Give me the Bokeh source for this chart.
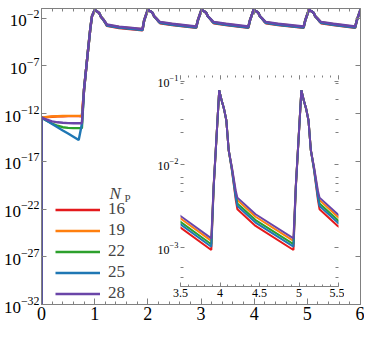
from bokeh.plotting import figure
from bokeh.models import (FixedTicker, LogAxis, LinearAxis, Legend, LegendItem,
                          Label, Range1d, CustomJSTickFormatter)
from bokeh.embed import file_html
from bokeh.resources import INLINE

# ---------------- data (time, log10 of quantity) ----------------
t = [0.0, 0.0, 0.1, 0.2, 0.3, 0.4, 0.5, 0.6, 0.7, 0.76, 0.80, 0.86, 0.92, 0.95, 1.00,
     1.03, 1.06, 1.09, 1.12, 1.16, 1.21, 1.23, 1.46,
     1.90, 1.93, 2.00, 2.03, 2.06, 2.09, 2.12, 2.16, 2.21, 2.23, 2.46,
     2.91, 2.94, 3.01, 3.04, 3.07, 3.10, 3.13, 3.17, 3.22, 3.24, 3.47,
     3.89, 3.92, 3.99, 4.02, 4.05, 4.08, 4.11, 4.15, 4.20, 4.22, 4.45,
     4.93, 4.96, 5.03, 5.06, 5.09, 5.12, 5.15, 5.19, 5.24, 5.26, 5.49,
     5.90, 5.93, 6.00]

log_np16 = [-40, -12.43, -12.38, -12.33, -12.30, -12.28, -12.27, -12.27, -12.27, -12.28, -9.5, -6.2, -3.0, -1.8, -1.15,
            -1.25, -1.36, -1.52, -1.88, -2.16, -2.61, -2.82, -3.04,
            -3.29, -2.28, -1.11, -1.23, -1.33, -1.47, -1.83, -2.07, -2.43, -2.54, -2.74,
            -3.03, -2.28, -1.11, -1.23, -1.33, -1.47, -1.83, -2.07, -2.43, -2.54, -2.74,
            -3.03, -2.28, -1.11, -1.23, -1.33, -1.47, -1.83, -2.07, -2.43, -2.54, -2.74,
            -3.03, -2.28, -1.11, -1.23, -1.33, -1.47, -1.83, -2.07, -2.43, -2.54, -2.74,
            -3.03, -2.28, -1.11]

log_np19 = [-40, -12.43, -12.36, -12.31, -12.28, -12.26, -12.25, -12.25, -12.25, -12.26, -9.5, -6.2, -3.0, -1.8, -1.15,
            -1.25, -1.36, -1.52, -1.88, -2.13, -2.53, -2.71, -2.93,
            -3.18, -2.25, -1.11, -1.23, -1.33, -1.47, -1.83, -2.04, -2.35, -2.43, -2.63,
            -2.92, -2.25, -1.11, -1.23, -1.33, -1.47, -1.83, -2.04, -2.35, -2.43, -2.63,
            -2.92, -2.25, -1.11, -1.23, -1.33, -1.47, -1.83, -2.04, -2.35, -2.43, -2.63,
            -2.92, -2.25, -1.11, -1.23, -1.33, -1.47, -1.83, -2.04, -2.35, -2.43, -2.63,
            -2.92, -2.25, -1.11]

log_np22 = [-40, -12.43, -12.75, -13.05, -13.28, -13.43, -13.50, -13.53, -13.53, -13.53, -9.5, -6.2, -3.0, -1.8, -1.15,
            -1.25, -1.36, -1.52, -1.88, -2.14, -2.55, -2.74, -2.96,
            -3.21, -2.26, -1.11, -1.23, -1.33, -1.47, -1.83, -2.05, -2.37, -2.47, -2.67,
            -2.96, -2.26, -1.11, -1.23, -1.33, -1.47, -1.83, -2.05, -2.37, -2.47, -2.67,
            -2.96, -2.26, -1.11, -1.23, -1.33, -1.47, -1.83, -2.05, -2.37, -2.47, -2.67,
            -2.96, -2.26, -1.11, -1.23, -1.33, -1.47, -1.83, -2.05, -2.37, -2.47, -2.67,
            -2.96, -2.26, -1.11]

log_np25 = [-40, -12.43, -12.76, -13.10, -13.43, -13.77, -14.10, -14.43, -14.77, -13.10, -9.5, -6.2, -3.0, -1.8, -1.15,
            -1.25, -1.36, -1.52, -1.88, -2.15, -2.58, -2.78, -3.00,
            -3.25, -2.27, -1.11, -1.23, -1.33, -1.47, -1.83, -2.06, -2.40, -2.50, -2.70,
            -2.99, -2.27, -1.11, -1.23, -1.33, -1.47, -1.83, -2.06, -2.40, -2.50, -2.70,
            -2.99, -2.27, -1.11, -1.23, -1.33, -1.47, -1.83, -2.06, -2.40, -2.50, -2.70,
            -2.99, -2.27, -1.11, -1.23, -1.33, -1.47, -1.83, -2.06, -2.40, -2.50, -2.70,
            -2.99, -2.27, -1.11]

log_np28 = [-40, -12.43, -12.65, -12.82, -12.92, -12.97, -13.00, -13.01, -13.02, -13.02, -9.5, -6.2, -3.0, -1.8, -1.15,
            -1.25, -1.36, -1.52, -1.88, -2.12, -2.50, -2.68, -2.90,
            -3.15, -2.25, -1.11, -1.23, -1.33, -1.47, -1.83, -2.03, -2.32, -2.40, -2.60,
            -2.89, -2.25, -1.11, -1.23, -1.33, -1.47, -1.83, -2.03, -2.32, -2.40, -2.60,
            -2.89, -2.25, -1.11, -1.23, -1.33, -1.47, -1.83, -2.03, -2.32, -2.40, -2.60,
            -2.89, -2.25, -1.11, -1.23, -1.33, -1.47, -1.83, -2.03, -2.32, -2.40, -2.60,
            -2.89, -2.25, -1.11]

np_labels = ["16", "19", "22", "25", "28"]
np_logs = [log_np16, log_np19, log_np22, log_np25, log_np28]
colors = ["#e41a1c", "#ff7f0e", "#2ca02c", "#1f77b4", "#6a45a8"]

main_xticks = [0, 1, 2, 3, 4, 5, 6]
main_xminor = [i / 5 for i in range(31)]
main_yticks = [1e-32, 1e-27, 1e-22, 1e-17, 1e-12, 1e-7, 1e-2]

inset_xticks = [3.5, 4, 4.5, 5, 5.5]
inset_xminor = [3.5 + i / 10 for i in range(21)]
inset_yticks = [1e-3, 1e-2, 1e-1]
inset_yminor = [4.4e-4, 5.8e-4, 4.7e-3, 5.9e-3, 6.9e-3, 2.4e-2, 3.5e-2, 6.0e-2, 9.3e-2]

FONT = "Liberation Serif"
AX = "#808080"
BLANK = CustomJSTickFormatter(code="return ''")

# ---------------- main figure ----------------
p = figure(width=364, height=322, y_axis_type="log",
           x_range=Range1d(0, 6), y_range=Range1d(1e-32, 1e-1),
           output_backend="svg", toolbar_location=None,
           min_border_left=30, min_border_right=4, min_border_top=8, min_border_bottom=6)
p.outline_line_color = None
p.grid.visible = False
p.background_fill_color = "white"

ren = []
for lab, lg, c in zip(np_labels, np_logs, colors):
    ys = [10.0 ** v for v in lg]
    r = p.line(t, ys, line_color=c, line_width=2.4)
    ren.append((lab, r))


def style_axis(ax, font_size, tin, minor_in, show_labels=True, line=True):
    ax.axis_line_color = AX if line else None
    ax.major_tick_line_color = AX
    ax.minor_tick_line_color = AX
    ax.major_tick_in = tin
    ax.major_tick_out = 0
    ax.minor_tick_in = minor_in
    ax.minor_tick_out = 0
    ax.major_label_text_font = FONT
    ax.major_label_text_color = "black"
    if show_labels:
        ax.major_label_standoff = 2
        ax.major_label_text_font_size = font_size
    else:
        ax.formatter = BLANK
        ax.major_label_standoff = 0
        ax.major_label_text_font_size = "1px"


xb = p.xaxis[0]
xb.ticker = FixedTicker(ticks=main_xticks, minor_ticks=main_xminor)
style_axis(xb, "18px", 6, 3)
yl = p.yaxis[0]
yl.ticker = FixedTicker(ticks=main_yticks, minor_ticks=[])
style_axis(yl, "17px", 5, 0)

xt = LinearAxis(ticker=FixedTicker(ticks=main_xticks, minor_ticks=main_xminor))
style_axis(xt, "17px", 6, 3, show_labels=False)
p.add_layout(xt, "above")
yr = LogAxis(ticker=FixedTicker(ticks=main_yticks, minor_ticks=[]))
style_axis(yr, "17px", 5, 0, show_labels=False)
p.add_layout(yr, "right")

legend = Legend(items=[LegendItem(label=lab, renderers=[r]) for lab, r in ren],
                location=(14, 1), padding=0, margin=0, spacing=1,
                glyph_width=45, glyph_height=17, label_height=17, label_standoff=8,
                label_text_font=FONT, label_text_font_size="17px",
                border_line_color=None, background_fill_alpha=0)
p.add_layout(legend)

p.add_layout(Label(x=68, y=111, x_units="screen", y_units="screen", text="N",
                   text_font=FONT, text_font_size="17px", text_font_style="italic",
                   text_baseline="alphabetic"))
p.add_layout(Label(x=83, y=107, x_units="screen", y_units="screen", text="P",
                   text_font=FONT, text_font_size="11px",
                   text_baseline="alphabetic"))

# ---------------- inset ----------------
ins = figure(width=204, height=236, y_axis_type="log",
             x_range=Range1d(3.5, 5.5), y_range=Range1d(3.4e-4, 0.117),
             output_backend="svg", toolbar_location=None,
             min_border_left=40, min_border_right=6, min_border_top=5, min_border_bottom=20,
             styles={"position": "absolute", "left": "140px", "top": "70px"})
ins.outline_line_color = None
ins.grid.visible = False
ins.background_fill_alpha = 0
ins.border_fill_alpha = 0

for lab, lg, c in zip(np_labels, np_logs, colors):
    ys = [10.0 ** v for v in lg]
    ins.line(t, ys, line_color=c, line_width=2)

ixb = ins.xaxis[0]
ixb.ticker = FixedTicker(ticks=inset_xticks, minor_ticks=inset_xminor)
ixb.major_label_overrides = {3.5: "3.5", 4: "4", 4.5: "4.5", 5: "5", 5.5: "5.5"}
style_axis(ixb, "12px", 4, 2)
iyl = ins.yaxis[0]
iyl.ticker = FixedTicker(ticks=inset_yticks, minor_ticks=inset_yminor)
style_axis(iyl, "12px", 4, 3, line=False)

ixt = LinearAxis(ticker=FixedTicker(ticks=inset_xticks, minor_ticks=inset_xminor))
style_axis(ixt, "12px", 4, 2, show_labels=False, line=False)
ins.add_layout(ixt, "above")
iyr = LogAxis(ticker=FixedTicker(ticks=inset_yticks, minor_ticks=inset_yminor))
style_axis(iyr, "12px", 4, 3, show_labels=False, line=False)
ins.add_layout(iyr, "right")

open("out.html", "w").write(file_html([p, ins], INLINE))
